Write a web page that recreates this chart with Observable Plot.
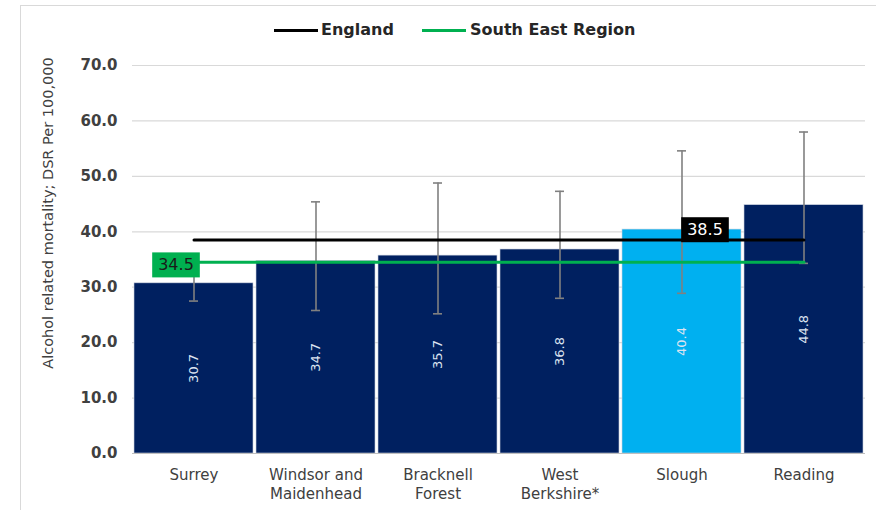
<!DOCTYPE html>
<html><head><meta charset="utf-8">
<script src="https://cdn.jsdelivr.net/npm/d3@7"></script>
<script src="https://cdn.jsdelivr.net/npm/@observablehq/plot@0.6"></script>
<style>
body{margin:0;background:#fff;font-family:"DejaVu Sans",sans-serif;}
#wrap{position:relative;width:876px;height:510px;overflow:hidden;}
#frame{position:absolute;left:20px;top:5px;width:870px;height:520px;border:1px solid #d9d9d9;pointer-events:none;}
#chart{position:absolute;left:0;top:0;}
.leg{position:absolute;top:21px;font-weight:bold;font-size:16px;color:#262626;line-height:18px;}
.legline{position:absolute;top:29px;height:3px;}
#ytitle{position:absolute;left:48px;top:213px;transform:translate(-50%,-50%) rotate(-90deg);white-space:nowrap;font-size:14.5px;color:#404040;}
</style></head>
<body>
<div id="wrap">
  <div id="frame"></div>
  <div id="chart"></div>
  <div class="legline" style="left:274px;width:44px;background:#000"></div>
  <div class="leg" style="left:321px" id="leg1"></div>
  <div class="legline" style="left:422px;width:44px;background:#00b050"></div>
  <div class="leg" style="left:470px" id="leg2"></div>
  <div id="ytitle"></div>
</div>
<script>
const areas = ["Surrey","Windsor and Maidenhead","Bracknell Forest","West Berkshire*","Slough","Reading"];
const tickLabels = ["Surrey","Windsor and\nMaidenhead","Bracknell\nForest","West\nBerkshire*","Slough","Reading"];
const values = [30.7,34.7,35.7,36.8,40.4,44.8];
const lowerCI = [27.5,25.8,25.2,28.0,28.9,34.3];
const upperCI = [34.1,45.4,48.8,47.3,54.6,58.0];
const englandValue = 38.5;
const southEastValue = 34.5;
const highlightArea = "Slough";
const yTicks = [0,10,20,30,40,50,60,70];
const seriesNames = ["England","South East Region"];
const yTitle = "Alcohol related mortality; DSR Per 100,000";

document.getElementById("leg1").textContent = seriesNames[0];
document.getElementById("leg2").textContent = seriesNames[1];
document.getElementById("ytitle").textContent = yTitle;

const rows = areas.map((a,i)=>({area:a, value:values[i], lo:lowerCI[i], hi:upperCI[i]}));
const first = areas[0], last = areas[areas.length-1];
const engLine = [{area:first, v:englandValue},{area:last, v:englandValue}];
const seLine = [{area:first, v:southEastValue},{area:last, v:southEastValue}];

const plot = Plot.plot({
  width: 876, height: 510,
  marginLeft: 132, marginRight: 11, marginTop: 65, marginBottom: 57,
  style: {fontFamily: "DejaVu Sans, sans-serif", background: "transparent"},
  x: {domain: areas, paddingInner: 0.025, paddingOuter: 0.005, label: null},
  y: {domain: [0,70], label: null},
  marks: [
    Plot.gridY(yTicks.filter(t=>t>0), {stroke:"#d9d9d9", strokeOpacity:1, strokeWidth:1.2}),
    Plot.barY(rows, {x:"area", y:"value", fill: d=>d.area===highlightArea?"#00b0f0":"#002060", stroke:"#c9d0de", strokeWidth:0.6}),
    Plot.ruleY([0], {stroke:"#bfbfbf"}),
    Plot.axisY({ticks: yTicks, tickFormat: d=>d.toFixed(1), tickSize:0, tickPadding:15, fontSize:15, fontWeight:"bold", fill:"#404040", label:null}),
    Plot.axisX({tickFormat: (d)=>tickLabels[areas.indexOf(d)], tickSize:0, tickPadding:13, fontSize:15, fill:"#404040", label:null, lineHeight:1.25}),
    Plot.text(rows, {x:"area", y:d=>d.value/2, text:d=>d.value.toFixed(1), rotate:-90, fill:"#dce3f0", fontSize:13}),
    Plot.ruleX(rows, {x:"area", y1:"lo", y2:"hi", stroke:"#808080", strokeWidth:1.6}),
    Plot.tickY(rows, {x:"area", y:"lo", stroke:"#808080", strokeWidth:1.6, insetLeft:55, insetRight:55}),
    Plot.tickY(rows, {x:"area", y:"hi", stroke:"#808080", strokeWidth:1.6, insetLeft:55, insetRight:55}),
    Plot.line(engLine, {x:"area", y:"v", stroke:"#000", strokeWidth:3}),
    Plot.line(seLine, {x:"area", y:"v", stroke:"#00b050", strokeWidth:3}),
    Plot.text([southEastValue], {x:()=>first, y:d=>d, text:d=>d.toFixed(1), dx:-18, dy:3, fill:"#1a1a1a", fontSize:16, ariaDescription:"se-label"}),
    Plot.text([englandValue], {x:()=>"Slough", y:d=>d, text:d=>d.toFixed(1), dx:23, dy:-10, fill:"#ffffff", fontSize:16, ariaDescription:"eng-label"})
  ]
});
document.getElementById("chart").appendChild(plot);

function boxify(label, fill){
  d3.select(plot).selectAll(`g[aria-description="${label}"] text`).each(function(){
    const b = this.getBBox();
    const r = document.createElementNS("http://www.w3.org/2000/svg", "rect");
    r.setAttribute("x", b.x-6); r.setAttribute("y", b.y-3);
    r.setAttribute("width", b.width+12); r.setAttribute("height", b.height+6);
    r.setAttribute("fill", fill);
    const t = this.getAttribute("transform");
    if (t) r.setAttribute("transform", t);
    this.parentNode.insertBefore(r, this);
  });
}
boxify("se-label", "#00b050");
boxify("eng-label", "#000000");
</script>
</body></html>
